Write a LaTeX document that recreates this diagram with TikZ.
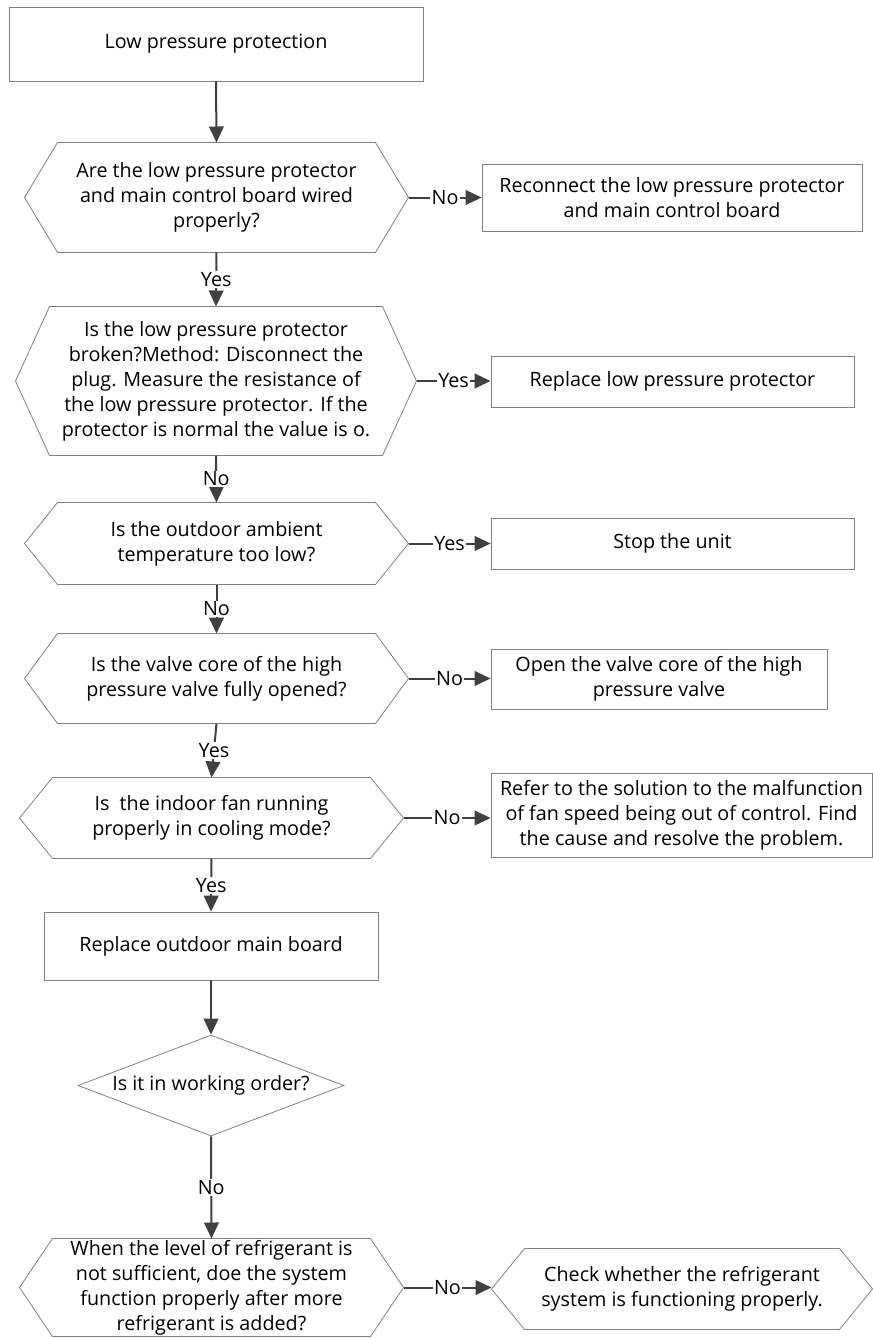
\documentclass[tikz,border=0pt]{standalone}
\usepackage{fontspec}
\setmainfont{Open Sans}
\usetikzlibrary{arrows.meta,shapes.geometric}

\tikzset{every picture/.style={line width=0.75pt}}
\tikzset{
  frame/.style={draw={rgb, 255:red, 128; green, 128; blue, 128 }, line width=0.6pt},
  boxnode/.style={frame, align=center, inner sep=0.75pt},
  hexnode/.style={align=center, inner sep=0.75pt},
  flow/.style={draw={rgb, 255:red, 64; green, 64; blue, 64 }, line width=1.5pt, -{Triangle[length=12pt,width=11pt]}},
  answer/.style={fill=white, inner sep=1pt}
}
% hexagon outline round a node, #1 = depth of the side points
\newcommand{\hexframe}[2][24.75pt]{\draw[frame] (#2.west) -- ([xshift=#1]#2.north west) -- ([xshift=-#1]#2.north east) -- (#2.east) -- ([xshift=-#1]#2.south east) -- ([xshift=#1]#2.south west) -- cycle;}

\begin{document}
\begin{tikzpicture}[x=0.75pt,y=0.75pt,yscale=-1,xscale=1,font=\fontsize{14.8}{18.75}\selectfont]
	\path[use as bounding box] (0,0) rectangle (873,1338);
	
	%Shape: Rectangle
	\node (start) [boxnode, minimum width=310.5pt, minimum height=55.5pt] at (216,44) {Low pressure protection};
	% Text Node
	\node (q1) [hexnode, minimum width=287.25pt, minimum height=81.75pt] at (216.5,197.5) {Are the low pressure protector\\and main control board wired\\properly?};
	\hexframe{q1}
	%Shape: Rectangle
	\node (a1) [boxnode, minimum width=285pt, minimum height=50.25pt] at (672,197.5) {Reconnect the low pressure protector\\and main control board};
	% Text Node
	\node (q2) [hexnode, minimum width=300pt, minimum height=111pt] at (216,381) {Is the low pressure protector\\broken?Method: Disconnect the\\plug. Measure the resistance of\\the low pressure protector. If the\\protector is normal the value is o.};
	\hexframe[25.5pt]{q2}
	%Shape: Rectangle
	\node (a2) [boxnode, minimum width=272.25pt, minimum height=38.25pt] at (672.5,381.5) {Replace low pressure protector};
	% Text Node
	\node (q3) [hexnode, minimum width=287.25pt, minimum height=60.75pt] at (216.5,543.5) {Is the outdoor ambient\\temperature too low?};
	\hexframe{q3}
	%Shape: Rectangle
	\node (a3) [boxnode, minimum width=272.25pt, minimum height=38.25pt] at (672.5,543.5) {Stop the unit};
	% Text Node
	\node (q4) [hexnode, minimum width=287.25pt, minimum height=66.75pt] at (216.5,678.5) {Is the valve core of the high\\pressure valve fully opened?};
	\hexframe{q4}
	%Shape: Rectangle
	\node (a4) [boxnode, minimum width=252pt, minimum height=45pt] at (659,679) {Open the valve core of the high\\pressure valve};
	% Text Node
	\node (q5) [hexnode, minimum width=287.25pt, minimum height=60pt] at (211.5,818) {Is~ the indoor fan running\\properly in cooling mode?};
	\hexframe{q5}
	%Shape: Rectangle
	\node (a5) [boxnode, minimum width=285.75pt, minimum height=63pt] at (681.5,815) {Refer to the solution to the malfunction\\of fan speed being out of control. Find\\the cause and resolve the problem.};
	%Shape: Rectangle
	\node (r1) [boxnode, minimum width=250.5pt, minimum height=51pt] at (211,946) {Replace outdoor main board};
	%Shape: Diamond
	\node (d1) [frame, shape=diamond, aspect=2.63, inner sep=0pt, minimum width=199.5pt, minimum height=75.75pt] at (211,1085.5) {Is it in working order?};
	% Text Node
	\node (q6) [hexnode, minimum width=287.25pt, minimum height=72.75pt] at (211.5,1287.5) {When the level of refrigerant is\\not sufficient, doe the system\\function properly after more\\refrigerant is added?};
	\hexframe{q6}
	% Text Node
	\node (a6) [hexnode, minimum width=285pt, minimum height=60pt] at (682,1289) {Check whether the refrigerant\\system is functioning properly.};
	\hexframe{a6}
	
	%Straight Lines
	\draw [flow] (start.south) -- (q1.north);
	\draw [flow] (q1.south) -- node [answer] {Yes} (q2.north);
	\draw [flow] (q2.south) -- node [answer] {No} (q3.north);
	\draw [flow] (q3.south) -- node [answer] {No} (q4.north);
	\draw [flow] (q4.south) -- node [answer] {Yes} (q5.north);
	\draw [flow] (q5.south) -- node [answer] {Yes} (r1.north);
	\draw [flow] (r1.south) -- (d1.north);
	\draw [flow] (d1.south) -- node [answer] {No} (q6.north);
	%Straight Lines
	\draw [flow] (q1.east) -- node [answer] {No} (q1.east -| a1.west);
	\draw [flow] (q2.east) -- node [answer] {Yes} (q2.east -| a2.west);
	\draw [flow] (q3.east) -- node [answer] {Yes} (q3.east -| a3.west);
	\draw [flow] (q4.east) -- node [answer] {No} (q4.east -| a4.west);
	\draw [flow] (q5.east) -- node [answer] {No} (q5.east -| a5.west);
	\draw [flow] (q6.east) -- node [answer] {No} (q6.east -| a6.west);
	
\end{tikzpicture}
\end{document}
